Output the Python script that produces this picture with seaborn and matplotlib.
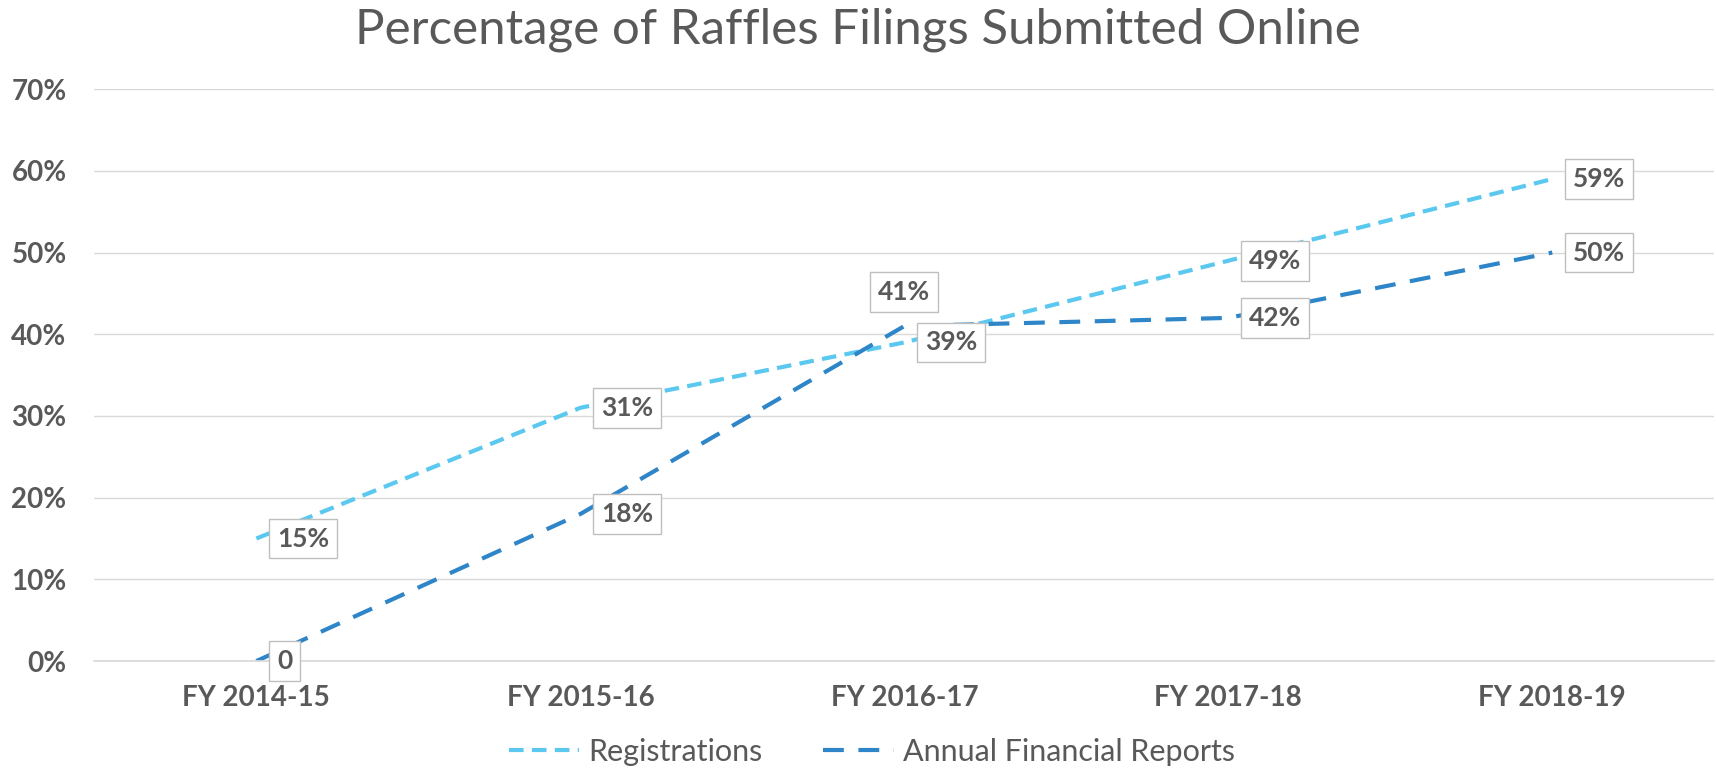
import matplotlib.pyplot as plt
import seaborn as sns
import pandas as pd
from matplotlib.ticker import PercentFormatter

# chart data
years = ["FY 2014-15", "FY 2015-16", "FY 2016-17", "FY 2017-18", "FY 2018-19"]
registrations = [0.15, 0.31, 0.39, 0.49, 0.59]
annual_reports = [0.00, 0.18, 0.41, 0.42, 0.50]
reg_labels = ["15%", "31%", "39%", "49%", "59%"]
afr_labels = ["0", "18%", "41%", "42%", "50%"]

sns.set_theme(style="white")
plt.rcParams['font.family'] = ['Lato', 'DejaVu Sans']

TEXT = "#595959"
LIGHT = "#5BC8F0"
DARK = "#2E86C8"
WEIGHT = "bold"

fig = plt.figure(figsize=(17.16, 7.75), dpi=100)
ax = fig.add_axes([0.055, 0.147, 0.944, 0.738])

df = pd.DataFrame({"year": years, "reg": registrations, "afr": annual_reports})

sns.lineplot(data=df, x="year", y="reg", ax=ax, color=LIGHT, linewidth=3,
             label="Registrations", sort=False)
sns.lineplot(data=df, x="year", y="afr", ax=ax, color=DARK, linewidth=3,
             label="Annual Financial Reports", sort=False)
ax.lines[0].set_dashes((3.5, 2))
ax.lines[1].set_dashes((5, 3.5))

box = dict(boxstyle="square,pad=0.3", fc="white", ec="#BFBFBF", lw=1)
for i, (v, t) in enumerate(zip(registrations, reg_labels)):
    ax.annotate(t, (i, v), xytext=(15, 0), textcoords="offset points",
                ha="left", va="center", fontsize=19, fontweight=WEIGHT,
                color=TEXT, bbox=box, zorder=5)
for i, (v, t) in enumerate(zip(annual_reports, afr_labels)):
    if i == 2:
        ax.annotate(t, (i, v), xytext=(0, 16), textcoords="offset points",
                    ha="center", va="bottom", fontsize=19, fontweight=WEIGHT,
                    color=TEXT, bbox=box, zorder=5)
    else:
        ax.annotate(t, (i, v), xytext=(15, 0), textcoords="offset points",
                    ha="left", va="center", fontsize=19, fontweight=WEIGHT,
                    color=TEXT, bbox=box, zorder=5)

ax.set_xlim(-0.5, 4.5)
ax.set_ylim(0, 0.70)
ax.set_yticks([i / 10 for i in range(8)])
ax.yaxis.set_major_formatter(PercentFormatter(1.0, decimals=0))
ax.grid(axis="y", color="#D9D9D9", linewidth=1)
ax.grid(axis="x", visible=False)
for s in ["top", "right", "left"]:
    ax.spines[s].set_visible(False)
ax.spines["bottom"].set_color("#D9D9D9")
ax.tick_params(axis="both", length=0, labelsize=20, labelcolor=TEXT)
ax.tick_params(axis="y", pad=20)
ax.tick_params(axis="x", pad=17)
for lbl in ax.get_xticklabels() + ax.get_yticklabels():
    lbl.set_fontweight(WEIGHT)
ax.set_xlabel("")
ax.set_ylabel("")

fig.suptitle("Percentage of Raffles Filings Submitted Online", y=0.99,
             fontsize=35.5, color=TEXT, va="top")

leg = ax.legend(loc="center", bbox_to_anchor=(0.508, 0.03),
                bbox_transform=fig.transFigure, ncol=2,
                frameon=False, fontsize=22, handlelength=2.3,
                columnspacing=2.0, handletextpad=0.3, borderpad=0)
for t in leg.get_texts():
    t.set_color(TEXT)

plt.savefig("out.png", dpi=100)
